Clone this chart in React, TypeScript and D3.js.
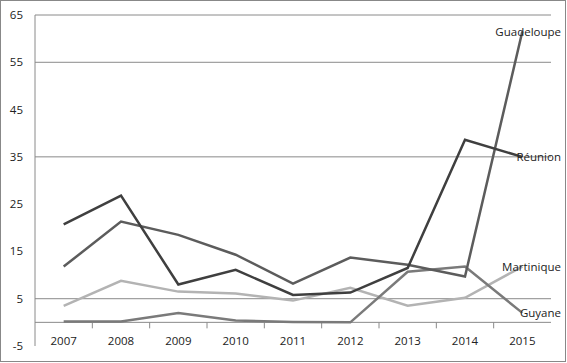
import React from 'react';
import * as d3 from 'd3';

const years = ['2007', '2008', '2009', '2010', '2011', '2012', '2013', '2014', '2015'];
const guadeloupe = [11.8, 21.3, 18.5, 14.3, 8.2, 13.7, 12.2, 9.7, 61.5];
const reunion = [20.7, 26.8, 8, 11.1, 5.8, 6.3, 11.5, 38.6, 35];
const martinique = [3.5, 8.8, 6.5, 6.1, 4.6, 7.3, 3.5, 5.2, 11.8];
const guyane = [0.2, 0.2, 2, 0.4, 0.1, 0, 10.7, 11.8, 2];
const yTicks = [65, 55, 45, 35, 25, 15, 5, -5];
const gridValues = [65, 55, 35, 5];

const series = [
  { name: 'Martinique', values: martinique, color: '#b3b3b3' },
  { name: 'Guyane', values: guyane, color: '#7a7a7a' },
  { name: 'Guadeloupe', values: guadeloupe, color: '#5c5c5c' },
  { name: 'Réunion', values: reunion, color: '#3f3f3f' },
];

const W = 567;
const H = 363;
const left = 35;
const right = 551;
const top = 15;
const bottom = 346;

const App = () => {
  const x = d3.scaleBand().domain(years).range([left, right]);
  const y = d3.scaleLinear().domain([-5, 65]).range([bottom, top]);
  const cx = (d: string) => (x(d) as number) + x.bandwidth() / 2;
  const line = d3
    .line<number>()
    .x((_, i) => cx(years[i]))
    .y((v) => y(v));
  const font = { fontFamily: '"Open Sans", sans-serif', fontSize: 11.5, fill: '#222' };

  return (
    <svg width={W} height={H} style={{ position: 'absolute', left: 0, top: 0, background: '#fff' }}>
      <rect x={0.5} y={0.5} width={W - 2} height={H - 2} fill="#fff" stroke="#888" />
      {gridValues.map((v) => (
        <line key={v} x1={left} x2={right} y1={y(v)} y2={y(v)} stroke="#8a8a8a" />
      ))}
      <line x1={left} x2={left} y1={top} y2={bottom} stroke="#8a8a8a" />
      <line x1={left} x2={right} y1={y(0)} y2={y(0)} stroke="#8a8a8a" />
      {years.slice(1).map((d) => (
        <line key={d} x1={x(d)} x2={x(d)} y1={y(0)} y2={y(0) + 6} stroke="#8a8a8a" />
      ))}
      {yTicks.map((v) => (
        <text key={v} x={23} y={y(v)} dy="0.35em" textAnchor="end" {...font}>
          {v}
        </text>
      ))}
      {years.map((d) => (
        <text key={d} x={cx(d)} y={y(0) + 19} dy="0.35em" textAnchor="middle" {...font}>
          {d}
        </text>
      ))}
      {series.map((s) => (
        <path key={s.name} d={line(s.values) || ''} fill="none" stroke={s.color} strokeWidth={2.5} strokeLinejoin="miter" />
      ))}
      {series.map((s) => (
        <text key={s.name} x={561} y={y(s.values[s.values.length - 1])} dy="0.35em" textAnchor="end" {...font}>
          {s.name}
        </text>
      ))}
    </svg>
  );
};

export default App;
